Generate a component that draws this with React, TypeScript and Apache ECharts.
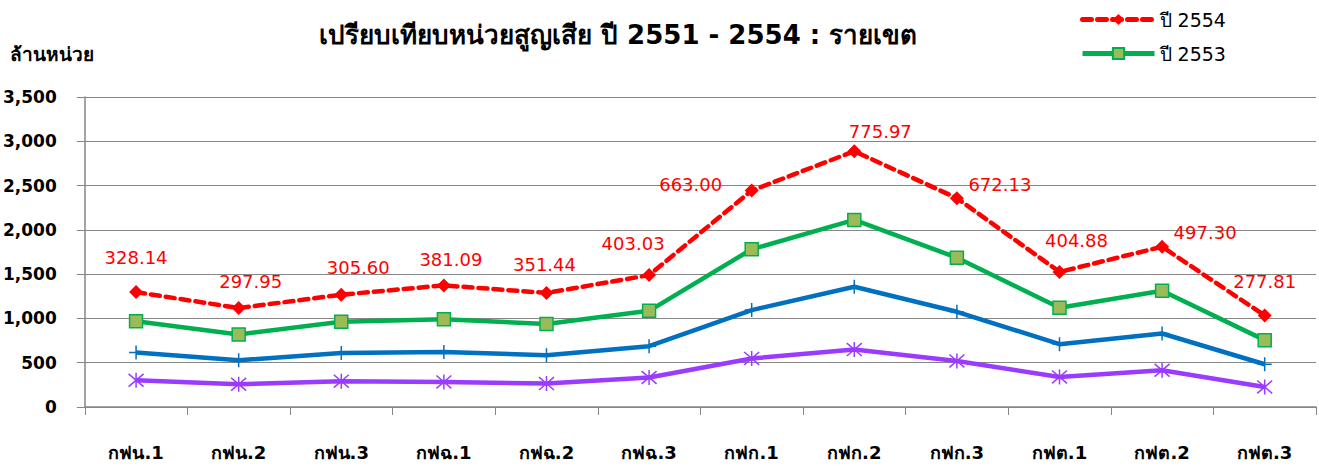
import React, { useEffect, useRef } from "react";
import * as echarts from "echarts";

const categories = ["กฟน.1", "กฟน.2", "กฟน.3", "กฟฉ.1", "กฟฉ.2", "กฟฉ.3", "กฟก.1", "กฟก.2", "กฟก.3", "กฟต.1", "กฟต.2", "กฟต.3"];
const y2551 = [302, 257, 291, 283, 264, 333, 548, 649, 520, 339, 415, 226];
const y2552 = [313, 271, 320, 339, 321, 354, 546, 708, 555, 370, 415, 257];
const y2553 = [354, 291, 351, 370, 351, 399, 687, 755, 611, 411, 482, 272];
const y2554 = [328.14, 297.95, 305.6, 381.09, 351.44, 403.03, 663.0, 775.97, 672.13, 404.88, 497.3, 277.81];
const yTicks = { min: 0, max: 3500, interval: 500 };
const labelOffsets = [[0, -35], [12, -27], [17, -27], [7, -26], [-2, -28], [-16, -32], [-61, -6], [26, -20], [43, -14], [17, -31], [43, -14], [0, -34]];

const FONT = "Tahoma, 'DejaVu Sans', 'Noto Sans', sans-serif";

export default function App() {
  const ref = useRef<HTMLDivElement>(null);
  useEffect(() => {
    if (!ref.current) return;
    const chart = echarts.init(ref.current, null, { renderer: "svg" });
    const gray = "#868686";
    chart.setOption({
      animation: false,
      backgroundColor: "#ffffff",
      textStyle: { fontFamily: FONT },
      title: {
        text: "เปรียบเทียบหน่วยสูญเสีย ปี 2551 - 2554 : รายเขต",
        left: 314,
        top: 17,
        textStyle: { fontSize: 26, fontWeight: "bold", color: "#000", fontFamily: FONT },
      },
      graphic: [
        {
          type: "text",
          left: 10,
          top: 44,
          style: { text: "ล้านหน่วย", fontSize: 19, fontWeight: "bold", fill: "#000", fontFamily: FONT },
        },
      ],
      legend: {
        data: ["ปี 2554", "ปี 2553"],
        orient: "vertical",
        left: 1075,
        top: 5,
        itemWidth: 72,
        itemHeight: 14,
        itemGap: 15,
        lineStyle: { width: 5 },
        textStyle: { fontSize: 19, color: "#000", fontFamily: FONT },
      },
      grid: { left: 83, right: 3, top: 97, bottom: 60, containLabel: false },
      xAxis: {
        type: "category",
        data: categories,
        boundaryGap: true,
        axisLine: { lineStyle: { color: gray, width: 1.5 } },
        axisTick: { show: true, length: 8, lineStyle: { color: gray } },
        axisLabel: { margin: 36, fontSize: 18, fontWeight: "bold", color: "#000", fontFamily: FONT },
        splitLine: { show: false },
      },
      yAxis: {
        type: "value",
        min: yTicks.min,
        max: yTicks.max,
        interval: yTicks.interval,
        axisLine: { show: true, lineStyle: { color: gray, width: 1.5 } },
        axisTick: { show: true, length: 8, lineStyle: { color: gray } },
        axisLabel: {
          margin: 28,
          fontSize: 17,
          fontWeight: "bold",
          color: "#000",
          fontFamily: FONT,
          formatter: (v: number) => v.toLocaleString("en-US"),
        },
        splitLine: { show: true, lineStyle: { color: gray, width: 1.2 } },
      },
      series: [
        {
          name: "ปี 2551",
          type: "line",
          stack: "total",
          data: y2551,
          z: 2,
          lineStyle: { color: "#9B3BFF", width: 4.5 },
          symbol: "path://M0,-7L0,7M-6,-6L6,6M-6,6L6,-6",
          symbolSize: 15,
          itemStyle: { color: "#9B3BFF", borderColor: "#9B3BFF", borderWidth: 1.5 },
        },
        {
          name: "ปี 2552",
          type: "line",
          stack: "total",
          data: y2552,
          z: 3,
          lineStyle: { color: "#0070C0", width: 4.5 },
          symbol: "path://M0,-7L0,7M-7,0L7,0",
          symbolSize: 14,
          itemStyle: { color: "#0070C0", borderColor: "#0070C0", borderWidth: 1.5 },
        },
        {
          name: "ปี 2553",
          type: "line",
          stack: "total",
          data: y2553,
          z: 4,
          lineStyle: { color: "#00B050", width: 4.5 },
          symbol: "rect",
          symbolSize: 13,
          itemStyle: { color: "#9BBB59", borderColor: "#00B050", borderWidth: 1.5 },
        },
        {
          name: "ปี 2554",
          type: "line",
          stack: "total",
          data: y2554.map((v, i) => ({
            value: v,
            label: { offset: labelOffsets[i] },
          })),
          z: 5,
          lineStyle: { color: "#FF0000", width: 4.5, type: [9, 6], cap: "round" },
          symbol: "diamond",
          symbolSize: 14,
          itemStyle: { color: "#FF0000", borderWidth: 0 },
          label: {
            show: true,
            position: "inside",
            color: "#FF0000",
            fontSize: 18,
            fontFamily: FONT,
            formatter: (p: any) => Number(p.value).toFixed(2),
          },
        },
      ],
    });
    return () => chart.dispose();
  }, []);
  return <div ref={ref} style={{ position: "fixed", left: 0, top: 0, width: 1319, height: 467 }} />;
}
